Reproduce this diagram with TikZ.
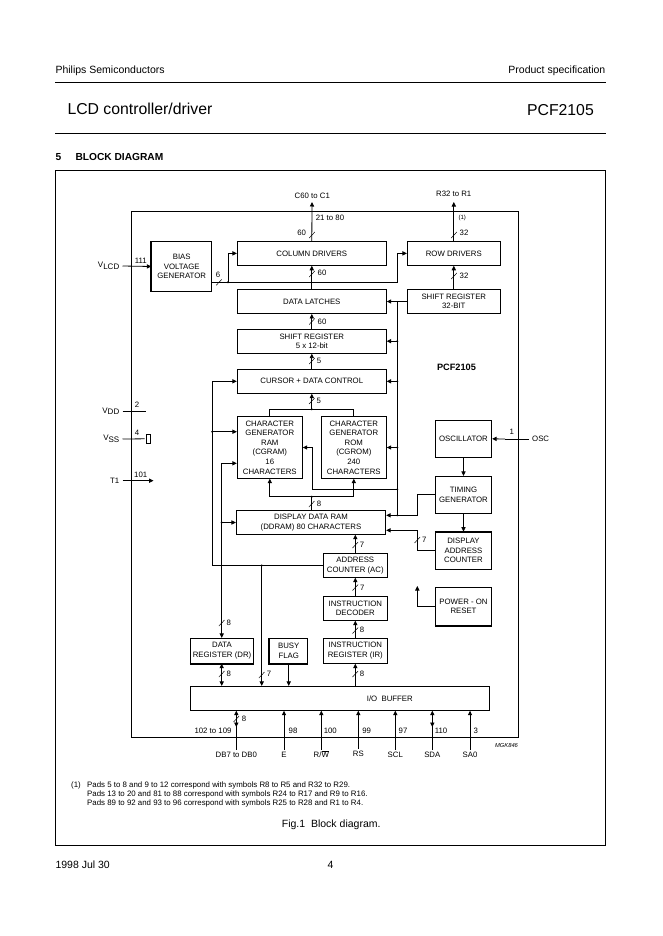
\documentclass[tikz,border=0pt]{standalone}
\usepackage{fontspec}
\setmainfont{Liberation Sans}
\usetikzlibrary{positioning,arrows.meta}

\begin{document}
\begin{tikzpicture}[
    x=1pt, y=-1pt,
    every node/.style={font=\fontsize{7.8}{9.6}\selectfont, align=center},
    block/.style={draw, line width=0.8pt, inner sep=0pt},
    wire/.style={draw, line width=0.8pt},
    sig/.style={draw, line width=0.8pt, -{Stealth[inset=0pt, length=4.5pt, width=4.2pt]}},
    both/.style={draw, line width=0.8pt, {Stealth[inset=0pt, length=4.5pt, width=4.2pt]}-{Stealth[inset=0pt, length=4.5pt, width=4.2pt]}},
    heavy/.style={draw, line width=2pt},
    tick/.style={draw, line width=0.5pt},
    pinname/.style={inner sep=2.5pt, text height=5.5pt, text depth=0pt},
    leftpin/.style={anchor=east, inner sep=3pt},
    num/.style={inner sep=0pt},
    pagetext/.style={inner sep=0pt, anchor=west, font=\fontsize{#1}{#1}\selectfont},
    pagetext/.default=10
]
\useasboundingbox (0,0) rectangle (662,936);

% Page head and foot
\node[pagetext=10.5] (company) at (55.3,70.3) {Philips Semiconductors};
\node[pagetext=10.5, anchor=east] (status) at (605.5,70.3) {Product specification};
\node[pagetext=15.8] (title) at (67.3,109.3) {LCD controller/driver};
\node[pagetext=15.8, anchor=east] (part) at (594,110.3) {PCF2105};
\node[pagetext=9, font=\fontsize{10.2}{11}\bfseries\selectfont] (secnum) at (55.3,157.3) {5};
\node[pagetext=9, font=\fontsize{10.2}{11}\bfseries\selectfont] (sectitle) at (75.3,156.8) {BLOCK DIAGRAM};
\node[pagetext=10.5] (date) at (55.3,865) {1998 Jul 30};
\node[pagetext=10.5] (pageno) at (327.5,865) {4};
\draw[wire] (55,82.3) -- (606,82.3);
\draw[wire] (55,133.3) -- (606,133.3);

% Frames
\draw[wire] (55,170) rectangle (605.3,845.3);
\draw[wire] (131.4,211.7) rectangle (518.3,737.3);

% Define blocks
\node[block, minimum width=60pt, minimum height=49.6pt] (bias) at (181.7,266.5) {BIAS\\VOLTAGE\\GENERATOR};
\node[block, minimum width=149pt, minimum height=24pt] (coldrv) at (311.8,253.4) {COLUMN DRIVERS};
\node[block, minimum width=149pt, minimum height=24pt] (latches) at (311.8,301.5) {DATA LATCHES};
\node[block, minimum width=149pt, minimum height=24pt] (sreg60) at (311.8,341.2) {SHIFT REGISTER\\5 x 12-bit};
\node[block, minimum width=149pt, minimum height=24pt] (cursor) at (311.8,381.3) {CURSOR + DATA CONTROL};
\node[block, minimum width=93pt, minimum height=24pt] (rowdrv) at (453.8,253.4) {ROW DRIVERS};
\node[block, minimum width=93pt, minimum height=24pt] (sreg32) at (453.8,301.5) {SHIFT REGISTER\\32-BIT};
\node[block, minimum width=65pt, minimum height=61.6pt] (cgram) at (269.8,447.5) {CHARACTER\\GENERATOR\\RAM\\(CGRAM)\\16\\CHARACTERS};
\node[block, minimum width=65pt, minimum height=61.6pt] (cgrom) at (353.8,447.5) {CHARACTER\\GENERATOR\\ROM\\(CGROM)\\240\\CHARACTERS};
\node[block, minimum width=149.4pt, minimum height=23.6pt] (ddram) at (311,522.5) {DISPLAY DATA RAM\\(DDRAM) 80 CHARACTERS};
\node[block, minimum width=64pt, minimum height=23.6pt] (ac) at (355.3,565.5) {ADDRESS\\COUNTER (AC)};
\node[block, minimum width=64pt, minimum height=24pt] (idec) at (355.3,608.3) {INSTRUCTION\\DECODER};
\node[block, minimum width=64pt, minimum height=25pt] (ir) at (355.3,650.8) {INSTRUCTION\\REGISTER (IR)};
\node[block, minimum width=63.4pt, minimum height=25pt] (dr) at (222,650.8) {DATA\\REGISTER (DR)};
\node[block, minimum width=38pt, minimum height=25pt] (busy) at (288.7,650.8) {BUSY\\FLAG};
\node[block, minimum width=56.4pt, minimum height=37pt] (osc) at (463.5,438.8) {OSCILLATOR};
\node[block, minimum width=56.4pt, minimum height=37pt] (timing) at (463.5,494.8) {TIMING\\GENERATOR};
\node[block, minimum width=56.4pt, minimum height=37.3pt] (dac) at (463.5,550.7) {DISPLAY\\ADDRESS\\COUNTER};
\node[block, minimum width=56.4pt, minimum height=38pt] (power) at (463.5,606.3) {POWER - ON\\RESET};
\node[block, minimum width=299pt, minimum height=24pt] (iobuf) at (339.8,698.3) {\hspace*{100pt}I/O\ \ BUFFER};
\node[block, minimum width=3.6pt, minimum height=9pt] (vssbox) at (148.5,438.8) {};
\node[font=\fontsize{9.2}{10}\bfseries\selectfont] (chip) at (456.5,367) {PCF2105};

% Heavy edges
\draw[heavy] (bias.north west) -- (bias.south west);
\draw[heavy] (dac.north west) -- (dac.north east);
\draw[heavy] (power.south west) -- (power.south east);
\draw[heavy] (dr.south west) -- (dr.south east);
\draw[heavy] (busy.north west) -- (busy.south west) -- (busy.south east);

% Pins
\node[leftpin] (vlcd) at (122.5,266) {\fontsize{8}{9}\selectfont V\raisebox{-1.5pt}{LCD}};
\node[leftpin] (vdd) at (122.5,411.3) {\fontsize{8}{9}\selectfont V\raisebox{-1.5pt}{DD}};
\node[leftpin] (vss) at (122.5,439) {\fontsize{8}{9}\selectfont V\raisebox{-1.5pt}{SS}};
\node[leftpin] (t1) at (122.5,480.7) {T1};
\node[anchor=west, inner sep=3pt] (oscpin) at (529,439) {OSC};
\node[pinname] (pindb) at (236.3,755) {DB7 to DB0};
\node[pinname] (pine) at (284,755) {E};
\node[pinname] (pinrw) at (321.3,755) {R/$\overline{\hbox{W}}$};
\node[pinname] (pinrs) at (358.3,754) {RS};
\node[pinname] (pinscl) at (395.3,755) {SCL};
\node[pinname] (pinsda) at (432.3,755) {SDA};
\node[pinname] (pinsa) at (470,755) {SA0};
\node[inner sep=0pt] (c60) at (312.3,195.5) {C60 to C1};
\node[inner sep=0pt] (r32) at (453.7,194) {R32 to R1};

\coordinate (vddend) at (146,411.3);
\coordinate (t1end) at (153.5,480.7);
\coordinate (oscmid) at (505,439);
\coordinate (c60end) at (312,202);
\coordinate (r32end) at (453.8,202);
\coordinate (dbtip) at (236.3,727);
\coordinate (dbmid) at (236.3,718);
\coordinate (sdatip) at (432.3,727);
\coordinate (sdamid) at (432.3,718);

% Junctions and bends
\coordinate (jbias) at (228,282.3);
\coordinate (jcol) at (228,253.4);
\coordinate (jrow) at (397.3,253.4);
\coordinate (biasend) at (397.3,282.3);
\coordinate (bust) at (397.3,301.5);
\coordinate (busb) at (397.3,515.3);
\coordinate (jgen) at (397.3,489.3);
\coordinate (bendgen) at (312.3,447.5);
\coordinate (bendt) at (417.3,515.3);
\coordinate (bendd) at (417.3,530.3);
\coordinate (bendp) at (417.3,586);
\coordinate (jtop) at (311.8,409.3);
\coordinate (jbot) at (311.7,496.7);
\coordinate (busl) at (212.3,381.3);
\coordinate (jram) at (212.3,431.7);
\coordinate (busd) at (221.7,463.3);
\coordinate (jdd) at (221.7,522.5);
\coordinate (jio) at (261.7,565.5);

% Draw connectors
\draw[sig] (vlcd.east) -- (bias.west);
\draw[wire] (vdd.east) -- (vddend);
\draw[wire, shorten >=1.7pt] (vss.east) -- (vssbox.west);
\draw[sig] (t1.east) -- (t1end);
\draw[wire] (oscpin.west) -- (oscmid);
\draw[sig] (oscmid) -- (osc.east);
\draw[sig] (coldrv.north) -- (c60end);
\draw[sig] (rowdrv.north) -- (r32end);
\draw[wire] (bias.east |- jbias) -- (biasend) -- (jrow);
\draw[sig] (jrow) -- (rowdrv.west);
\draw[sig] (jbias) -- (jcol) -- (coldrv.west);
\draw[sig] (latches.north) -- (coldrv.south);
\draw[sig] (sreg60.north) -- (latches.south);
\draw[sig] (cursor.north) -- (sreg60.south);
\draw[sig] (sreg32.north) -- (rowdrv.south);
\draw[sig] (sreg32.west) -- (latches.east);
\draw[wire] (bust) -- (busb);
\foreach \t in {sreg60, cursor, cgrom} {
    \draw[sig] (bust |- \t.east) -- (\t.east);
}
\draw[sig] (jgen) -| (bendgen) -- (cgram.east);
\draw[sig] (timing.west) -| (bendt) -- (ddram.east |- bendt);
\draw[sig] (dac.west) -| (bendd) -- (ddram.east |- bendd);
\draw[sig] (power.west) -| (bendp);
\draw[sig] (osc.south) -- (timing.north);
\draw[sig] (timing.south) -- (dac.north);
\draw[wire] (cgram.north) |- (jtop) -| (cgrom.north);
\draw[sig] (jtop) -- (cursor.south);
\draw[wire] (jbot |- ddram.north) -- (jbot);
\draw[sig] (jbot) -| (cgram.south);
\draw[sig] (jbot) -| (cgrom.south);
\draw[sig] (ac.north) -- (ac.north |- ddram.south);
\draw[sig] (idec.north) -- (ac.south);
\draw[sig] (ir.north) -- (idec.south);
\draw[sig] (ir.south |- iobuf.north) -- (ir.south);
\draw[sig] (ac.west) -| (busl) -- (cursor.west);
\draw[sig] (jram) -- (cgram.west |- jram);
\draw[sig] (busd) -- (cgram.west |- busd);
\draw[sig] (busd) -- (busd |- dr.north);
\draw[sig] (jdd) -- (ddram.west);
\draw[both] (busd |- dr.south) -- (busd |- iobuf.north);
\draw[sig] (jio) -- (jio |- iobuf.north);
\draw[sig] (busy.south) -- (busy.south |- iobuf.north);
\foreach \p in {pindb, pine, pinrw, pinrs, pinscl, pinsda, pinsa} {
    \draw[sig] (\p.north) -- (\p.north |- iobuf.south);
}
\draw[sig] (dbmid) -- (dbtip);
\draw[sig] (sdamid) -- (sdatip);

% Bus ticks
\foreach \x/\y in {312/235, 312/274, 312/321.5, 312/361, 311.8/401, 311.7/504, 454/235, 454/276, 219/282.3, 417.3/540, 355.3/545, 355.3/587.5, 355.3/630.5, 355.3/674, 221.7/623, 221.7/674, 261.7/675, 236.3/719} {
    \draw[tick] (\x-2.8,\y+3) -- (\x+2.8,\y-3);
}

% Junction dots
\foreach \c in {jbias, jtop, jbot, jgen, busb, jram, jdd, jio} {
    \fill (\c) circle (1.1pt);
}
\foreach \t in {sreg60, cursor, cgrom} {
    \fill (bust |- \t.east) circle (1.1pt);
}

% Numbers at connectors
\foreach \x/\y/\w in {301.7/233.3/60, 322/273.3/60, 322/322/60, 319/361/5, 318.7/401/5, 319/504/8, 464/233/32, 464/276/32, 218/274.5/6, 140.7/260.5/111, 424.3/540/7, 362/545/7, 362.3/588/7, 362/630/8, 362/674/8, 228.7/623/8, 228.7/674/8, 269/674/7, 244/719/8, 137/405/2, 137/433/4, 140.7/475/101, 511.7/432/1, 293/731/98, 330.3/731/100, 366.7/731/99, 403/731/97, 441/731/110, 475.7/731/3, 330/218/21 to 80, 213/731/102 to 109} {
    \node[num] (n\x) at (\x,\y) {\w};
}
\node[num, font=\fontsize{6}{7}\selectfont] (padnote) at (462.3,218) {(1)};
\node[num, font=\fontsize{5.8}{6}\itshape\selectfont] (drawing) at (506.5,745) {MGK846};

% Footnote and caption
\node[pagetext=7.87] (noteref) at (71,785) {(1)};
\node[pagetext=7.87] (note1) at (87,785) {Pads 5 to 8 and 9 to 12 correspond with symbols R8 to R5 and R32 to R29.};
\node[pagetext=7.87] (note2) at (87,794.3) {Pads 13 to 20 and 81 to 88 correspond with symbols R24 to R17 and R9 to R16.};
\node[pagetext=7.87] (note3) at (87,803.5) {Pads 89 to 92 and 93 to 96 correspond with symbols R25 to R28 and R1 to R4.};
\node[pagetext=10.5] (caption) at (281.7,825) {Fig.1\ \ Block diagram.};

\end{tikzpicture}
\end{document}
